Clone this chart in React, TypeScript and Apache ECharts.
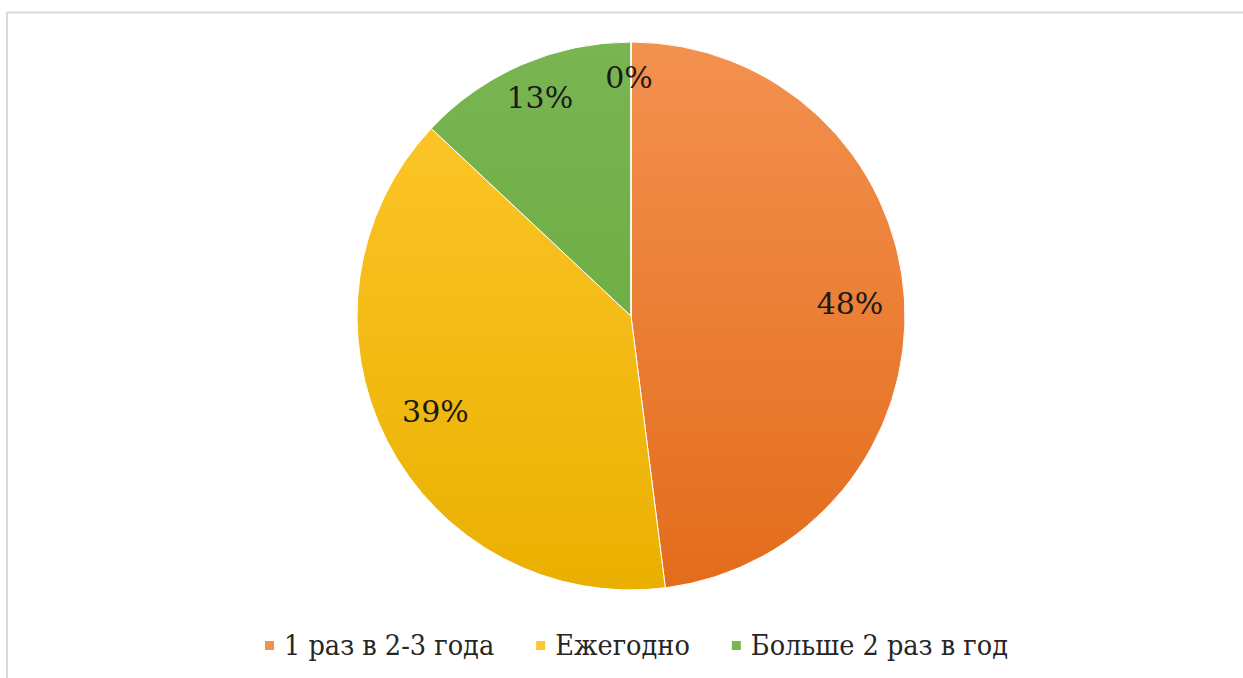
import React, { useEffect, useRef } from "react";
import * as echarts from "echarts";

const categories = ["1 раз в 2-3 года", "Ежегодно", "Больше 2 раз в год", "Другое"];
const values = [48, 39, 13, 0];
const legendItems = ["1 раз в 2-3 года", "Ежегодно", "Больше 2 раз в год"];
const topColors = ["#F3914F", "#FFC82E", "#79B551", "#5B9BD5"];
const bottomColors = ["#E36C1B", "#EAB000", "#66A63C", "#4A86C0"];
const labelOffsets = [[0, 1], [0, -4], [-4, -17], [-2, -19]];

export default function App() {
  const ref = useRef<HTMLDivElement>(null);
  useEffect(() => {
    if (!ref.current) return;
    const chart = echarts.init(ref.current, undefined, { renderer: "svg" });
    const cx = 631, cy = 316, R = 274;
    const grad = (i: number) =>
      new echarts.graphic.LinearGradient(0, cy - R, 0, cy + R, [
        { offset: 0, color: topColors[i] },
        { offset: 1, color: bottomColors[i] },
      ], true);
    const font = "DejaVu Serif";
    const legendFont = "DejaVu Serif Condensed, DejaVu Serif";
    chart.setOption({
      animation: false,
      backgroundColor: "#ffffff",
      textStyle: { fontFamily: font },
      graphic: [
        {
          type: "rect",
          shape: { x: 7, y: 12.5, width: 1240, height: 700 },
          style: { fill: "none", stroke: "#d9d9d9", lineWidth: 2 },
          silent: true,
        },
      ],
      legend: {
        data: legendItems,
        top: 626,
        left: 258,
        itemWidth: 11,
        itemHeight: 11,
        itemGap: 40,
        icon: "rect",
        textStyle: { fontFamily: legendFont, fontSize: 28.5, color: "#262626", padding: [0, 0, 0, 4] },
        selectedMode: false,
      },
      series: [
        {
          type: "pie",
          center: [cx, cy],
          radius: [0, R],
          startAngle: 90,
          clockwise: true,
          silent: true,
          label: { show: false },
          labelLine: { show: false },
          itemStyle: { borderColor: "#ffffff", borderWidth: 1 },
          data: categories.map((name, i) => ({
            name,
            value: values[i],
            itemStyle: { color: grad(i) },
          })),
        },
        {
          type: "pie",
          center: [cx, cy],
          radius: [R * 0.58, R],
          startAngle: 90,
          clockwise: true,
          silent: true,
          itemStyle: { color: "transparent", borderWidth: 0 },
          labelLine: { show: false },
          label: {
            show: true,
            position: "inside",
            formatter: "{c}%",
            fontFamily: font,
            fontSize: 30,
            color: "#1a1a1a",
          },
          data: categories.map((name, i) => ({
            name,
            value: values[i],
            label: { offset: labelOffsets[i] },
          })),
        },
      ],
    });
    return () => chart.dispose();
  }, []);
  return (
    <div
      ref={ref}
      style={{ position: "fixed", left: 0, top: 0, width: 1243, height: 678 }}
    />
  );
}
